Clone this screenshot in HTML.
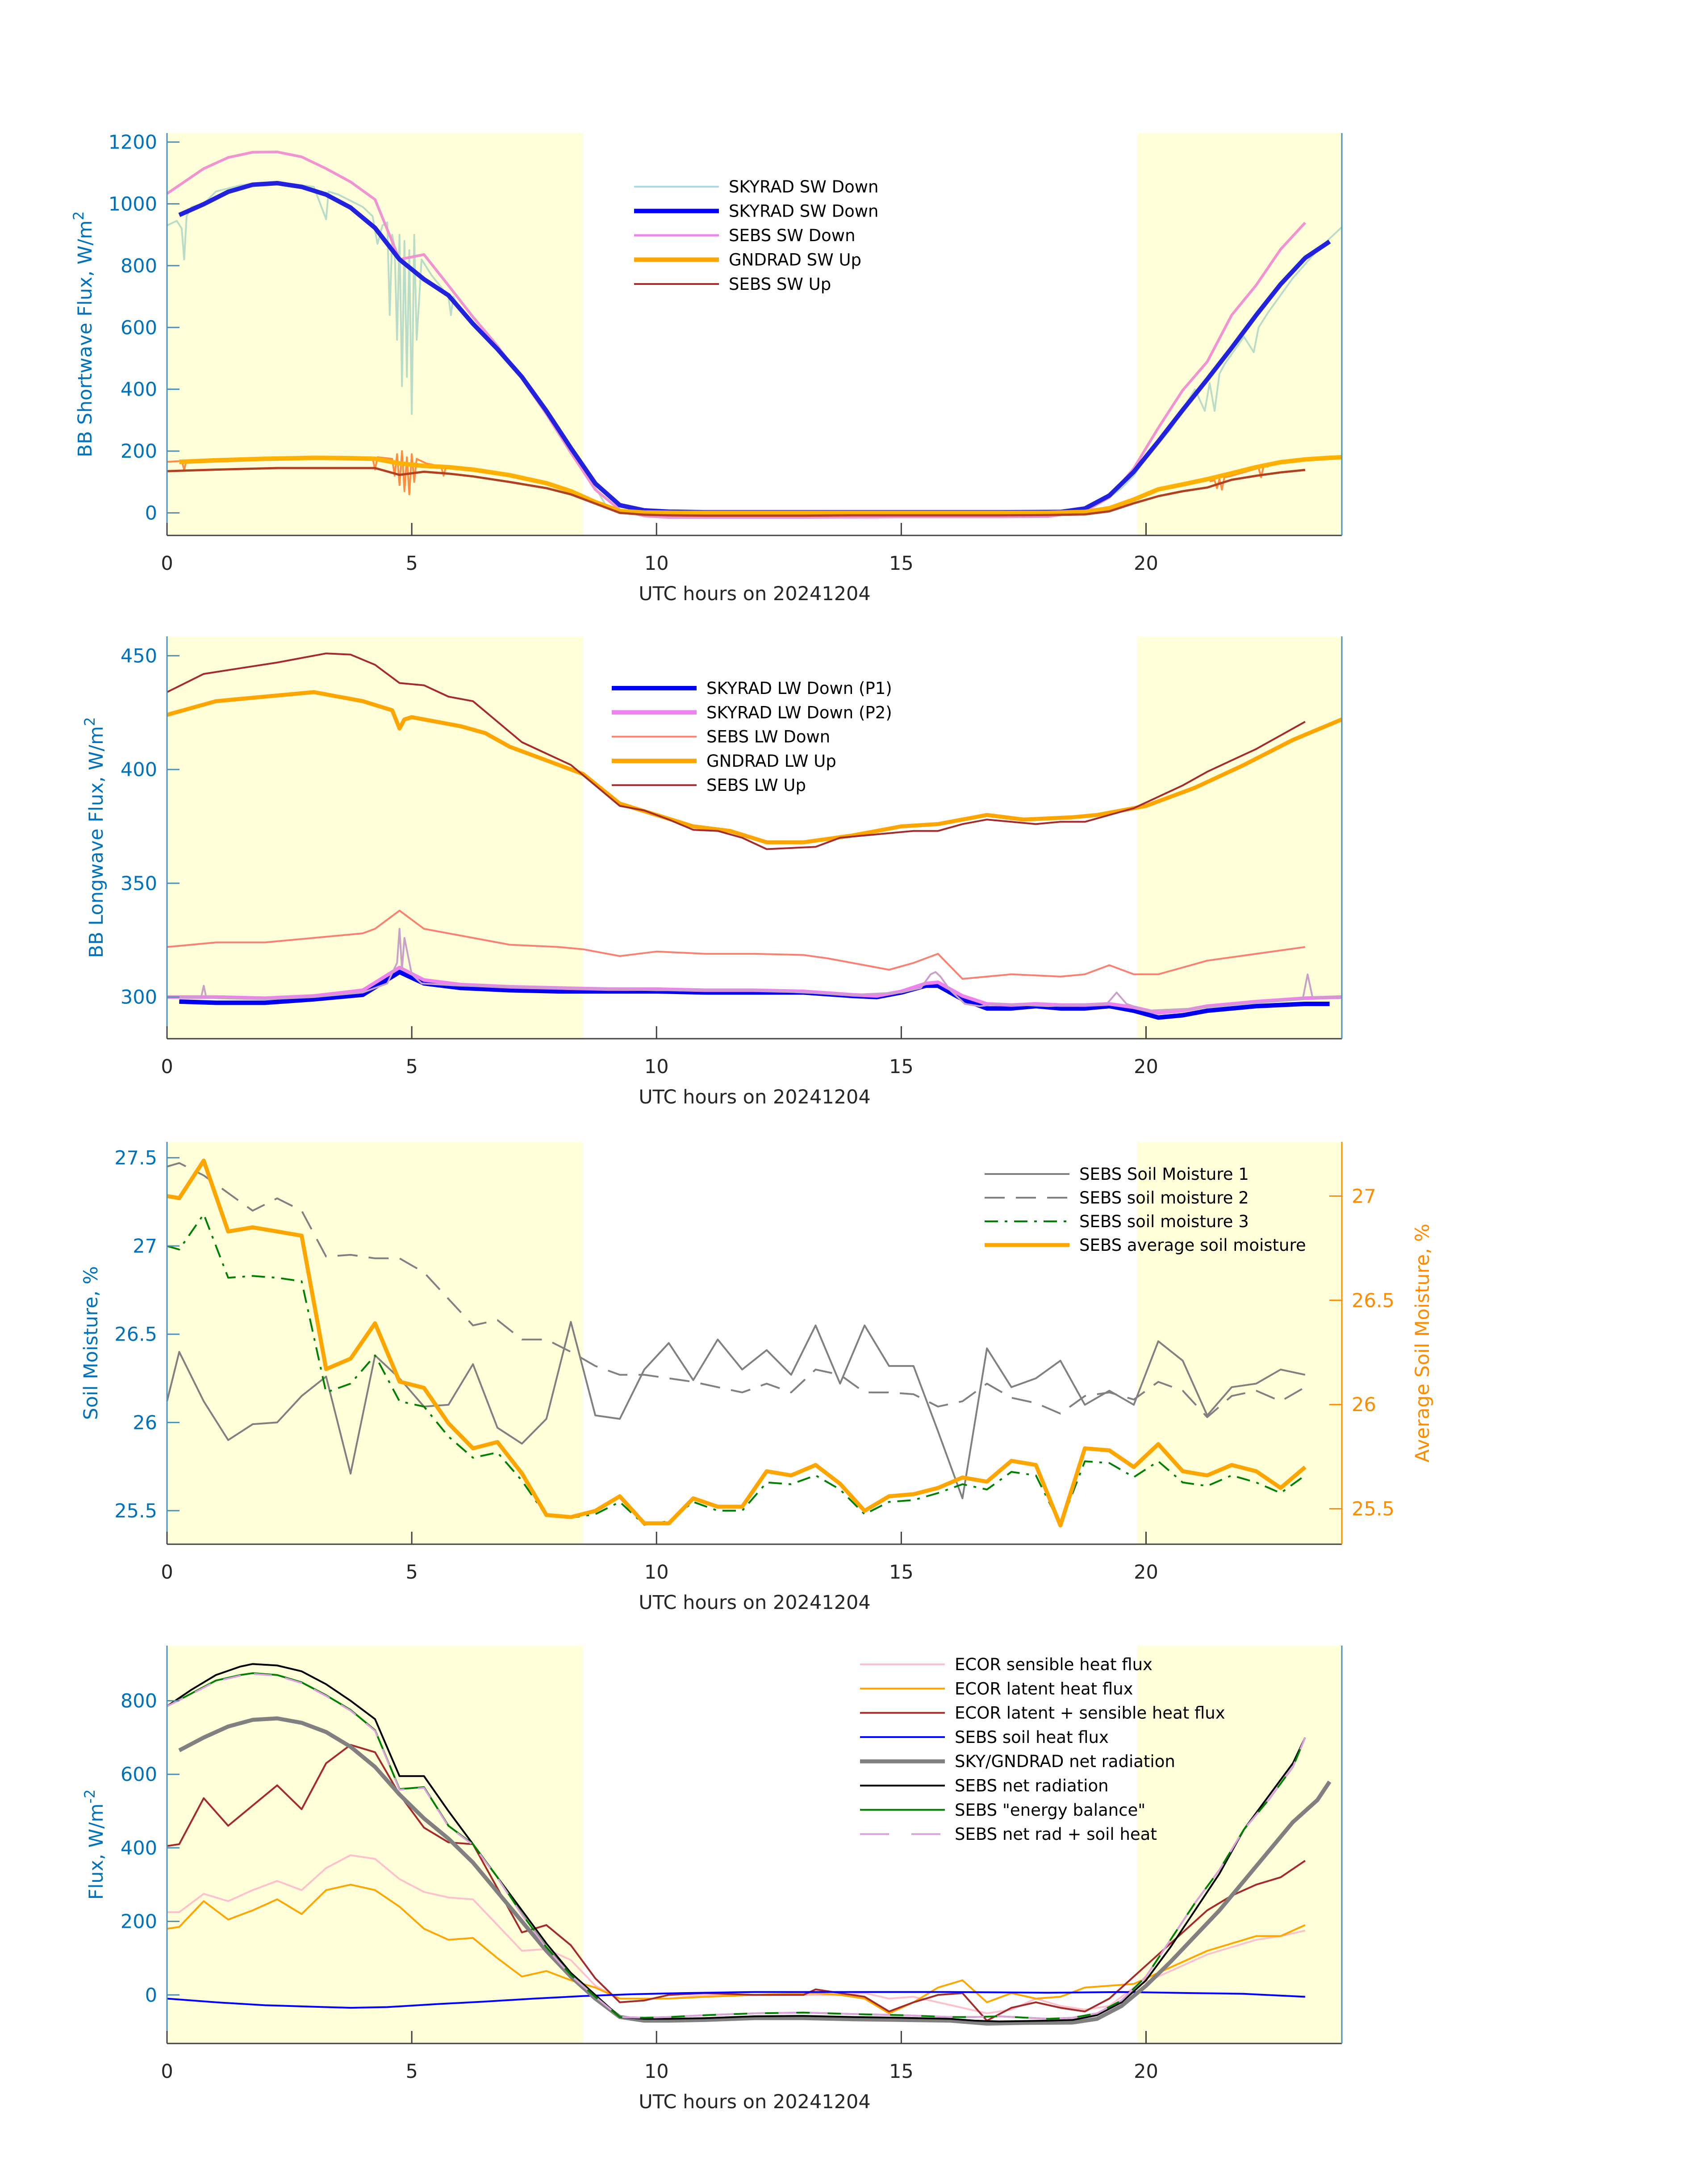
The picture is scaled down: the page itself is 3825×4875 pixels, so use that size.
<!DOCTYPE html>
<html><head><meta charset="utf-8">
<style>
html,body{margin:0;padding:0;background:#fff;}
svg{display:block;font-family:"DejaVu Sans","Liberation Sans",sans-serif;}
</style></head>
<body>
<svg id="chart" width="3825" height="4875" viewBox="0 0 3825 4875" xmlns="http://www.w3.org/2000/svg"></svg>
<script>
// ---------- Panel 1 data (shortwave) ----------
const swSkyT = [0.25,0.75,1.25,1.75,2.25,2.75,3.25,3.75,4.25,4.75,5.25,5.75,6.25,6.75,7.25,7.75,8.25,8.75,9.25,9.75,10.25,11,12,13,14,15,16,17,18.25,18.75,19.25,19.75,20.25,20.75,21.25,21.75,22.25,22.75,23.25,23.75];
const swSkyV = [964,999,1039,1062,1067,1055,1030,988,922,820,756,704,612,530,440,330,210,95,25,8,4,2,2,2,2,2,2,2,3,14,56,133,231,333,432,534,640,740,825,878];
const swSebsT = [0,0.75,1.25,1.75,2.25,2.75,3.25,3.75,4.25,4.75,5.25,5.75,6.25,6.75,7.25,7.75,8.25,8.75,9.25,9.75,10.25,11,12,13,14,15,16,17,18,18.75,19.25,19.75,20.25,20.75,21.25,21.75,22.25,22.75,23.25];
const swSebsV = [1033,1114,1150,1167,1168,1152,1114,1071,1014,820,836,736,634,540,435,320,195,75,10,-10,-15,-15,-15,-15,-14,-13,-13,-13,-12,5,50,144,275,397,489,640,737,853,939];
const swThinT = [0,0.2,0.3,0.35,0.4,0.5,0.75,1,1.25,1.5,1.75,2,2.5,3,3.25,3.3,3.5,4,4.2,4.3,4.4,4.5,4.55,4.6,4.65,4.7,4.75,4.8,4.85,4.9,4.95,5,5.05,5.1,5.2,5.4,5.6,5.75,5.8,5.85,6,6.5,7,7.5,8,8.5,9,9.5,10,12,14,16,18,18.75,19.25,19.5,19.75,20,20.5,21,21.2,21.3,21.4,21.5,21.6,22,22.2,22.3,22.5,23,23.5,24];
const swThinV = [930,945,920,820,960,990,1000,1040,1050,1060,1065,1068,1065,1055,950,1040,1030,990,960,870,930,940,640,900,860,560,900,410,880,440,850,320,900,560,820,770,730,700,640,700,655,570,485,380,265,150,15,5,3,2,2,2,2,15,50,80,120,180,270,400,330,420,330,450,480,570,520,600,650,760,850,925];
const gndThinT = [0,0.3,0.35,0.4,0.5,4.2,4.25,4.3,4.6,4.65,4.7,4.75,4.8,4.85,4.9,4.95,5,5.05,5.1,5.3,5.6,5.65,5.7,6];
const gndThinV = [165,168,140,170,168,178,140,180,175,120,190,90,200,70,180,60,190,100,175,160,150,120,150,140];
const gndThin2T = [21.3,21.4,21.45,21.5,21.55,21.6,21.7,22.3,22.35,22.4,22.5];
const gndThin2V = [102,105,80,110,75,115,118,145,115,150,150];
const gndSwT = [0.25,1,2,3,3.75,4.25,4.75,5.25,5.75,6.25,7,7.75,8.25,8.75,9.25,9.75,10.5,12,14,16,18,18.75,19.25,19.75,20.25,20.75,21.25,21.75,22.25,22.75,23.25,23.75,24];
const gndSwV = [165,170,175,178,177,175,160,152,148,140,122,96,70,35,6,1,0,0,0,0,0,3,15,43,76,92,109,128,148,164,173,178,180];
const sebsUpT = [0,1,2.25,3.25,4.25,4.75,5.25,5.75,6.25,7,7.75,8.25,8.75,9.25,9.75,10.25,11,12,13,14,15,16,17,18,18.75,19.25,19.75,20.25,20.75,21.25,21.75,22.25,22.75,23.25];
const sebsUpV = [135,140,145,145,145,123,133,127,118,100,80,60,30,0,-6,-8,-9,-9,-9,-8,-8,-8,-8,-7,-5,5,31,54,70,82,107,120,131,139];

// ---------- Panel 2 data (longwave) ----------
const lwP1T = [0.25,1,2,3,4,4.75,5.25,6,7,8,9,10,11,12,13,14,14.5,15,15.5,15.75,16.25,16.75,17.25,17.75,18.25,18.75,19.25,19.75,20.25,20.75,21.25,22.25,23.25,23.75];
const lwP1V = [298,297.5,297.5,299,301,311,306,304,303,302.5,302.5,302.5,302,302,302,300.5,300,302,305,305,299,295,295,296,295,295,296,294,291,292,294,296,297,297];
const lwP2T = [0,1,2,3,4,4.75,5.25,6,7,8,9,10,11,12,13,14,14.5,15,15.5,15.75,16.25,16.75,17.25,17.75,18.25,18.75,19.25,19.75,20.25,20.75,21.25,22.25,23.25,24];
const lwP2V = [300,300,299.5,300.5,303,313,307.5,305.5,304.5,304,303.5,303.5,303,303,302.5,301,300.5,302.5,306,306.5,300.5,297,296.5,297,296.5,296.5,297,295.5,293,294,296,298,299.5,300];
const lwThinT = [0,0.7,0.75,0.8,1,2,3,4,4.5,4.7,4.75,4.8,4.85,5,5.2,6,8,10,12,14,15,15.4,15.6,15.7,15.8,16,16.3,16.6,17,18,19.2,19.4,19.6,20,21,22,23.2,23.3,23.4,24];
const lwThinV = [300,300,305,300,299.5,299,300,302,306,315,330,312,326,310,306,305,304,303,303,301,302,304,310,311,309,303,297,296,297,296,297,302,297,294,295,297,299,310,300,300];
const sebsLwDownT = [0,1,2,3,4,4.25,4.75,5.25,6,7,8,8.5,9.25,10,11,12,13,13.5,14.25,14.75,15.25,15.75,16.25,16.75,17.25,17.75,18.25,18.75,19.25,19.75,20.25,20.75,21.25,22.25,23.25];
const sebsLwDownV = [322,324,324,326,328,330,338,330,327,323,322,321,318,320,319,319,318.5,317,314,312,315,319,308,309,310,309.5,309,310,314,310,310,313,316,319,322];
const gndLwT = [0,1,2,3,4,4.6,4.75,4.85,5,6,6.5,7,7.75,8.5,9.25,10,10.75,11.5,12.25,13,14,15,15.75,16.75,17.5,18.5,19,20,21,22,23,24];
const gndLwV = [424,430,432,434,430,426,418,422,423,419,416,410,404,398,385,380,375,373,368,368,371,375,376,380,378,379,380,384,392,402,413,422];
const sebsLwUpT = [0,0.75,1.5,2.25,3.25,3.75,4.25,4.75,5.25,5.75,6.25,6.75,7.25,7.75,8.25,8.75,9.25,9.75,10.25,10.75,11.25,11.75,12.25,13.25,13.75,14.25,15.25,15.75,16.25,16.75,17.25,17.75,18.25,18.75,19.25,19.75,20.25,20.75,21.25,21.75,22.25,22.75,23.25];
const sebsLwUpV = [434,442,444.5,447,451,450.5,446,438,437,432,430,421,412,407,402,393,384,382,378,373.5,373,370,365,366,370,371,373,373,376,378,377,376,377,377,380,383,388,393,399,404,409,415,421];

// ---------- Panel 3 data (soil moisture) ----------
const smT = [0,0.25,0.75,1.25,1.75,2.25,2.75,3.25,3.75,4.25,4.75,5.25,5.75,6.25,6.75,7.25,7.75,8.25,8.75,9.25,9.75,10.25,10.75,11.25,11.75,12.25,12.75,13.25,13.75,14.25,14.75,15.25,15.75,16.25,16.75,17.25,17.75,18.25,18.75,19.25,19.75,20.25,20.75,21.25,21.75,22.25,22.75,23.25];
const sm1 = [26.12,26.4,26.12,25.9,25.99,26.0,26.15,26.26,25.71,26.38,26.25,26.09,26.1,26.33,25.97,25.88,26.02,26.57,26.04,26.02,26.3,26.45,26.24,26.47,26.3,26.41,26.27,26.55,26.22,26.55,26.32,26.32,25.95,25.57,26.42,26.2,26.25,26.35,26.1,26.18,26.1,26.46,26.35,26.04,26.2,26.22,26.3,26.27];
const sm2 = [27.45,27.47,27.4,27.3,27.2,27.27,27.2,26.94,26.95,26.93,26.93,26.85,26.7,26.55,26.58,26.47,26.47,26.4,26.32,26.27,26.27,26.25,26.23,26.2,26.17,26.22,26.17,26.3,26.27,26.17,26.17,26.16,26.09,26.12,26.22,26.14,26.11,26.05,26.15,26.17,26.13,26.23,26.18,26.03,26.15,26.18,26.12,26.2];
const sm3 = [27.0,26.98,27.18,26.82,26.83,26.82,26.8,26.17,26.22,26.38,26.12,26.09,25.92,25.8,25.83,25.67,25.47,25.46,25.48,25.55,25.42,25.44,25.55,25.5,25.5,25.66,25.65,25.7,25.62,25.48,25.55,25.56,25.6,25.65,25.62,25.72,25.7,25.42,25.78,25.77,25.69,25.78,25.66,25.64,25.7,25.66,25.6,25.7];
const smAvg = [27.0,26.99,27.17,26.83,26.85,26.83,26.81,26.17,26.22,26.39,26.11,26.08,25.91,25.79,25.82,25.67,25.47,25.46,25.49,25.56,25.43,25.43,25.55,25.51,25.51,25.68,25.66,25.71,25.62,25.49,25.56,25.57,25.6,25.65,25.63,25.73,25.71,25.42,25.79,25.78,25.7,25.81,25.68,25.66,25.71,25.68,25.6,25.7];

// ---------- Panel 4 data (fluxes) ----------
const fxT = [0,0.25,0.75,1.25,1.75,2.25,2.75,3.25,3.75,4.25,4.75,5.25,5.75,6.25,6.75,7.25,7.75,8.25,8.75,9.25,9.75,10.25,11,12,13,13.25,13.75,14.25,14.75,15.25,15.75,16.25,16.75,17.25,17.75,18.25,18.75,19.25,19.75,20.25,20.75,21.25,21.75,22.25,22.75,23.25];
const ecorSens = [225,225,275,255,285,310,285,345,380,370,315,280,265,260,190,120,125,95,25,-10,-10,-10,0,0,0,0,0,5,-10,-5,-20,-35,-50,-40,-10,-30,-40,-30,20,50,80,110,130,150,160,175];
const ecorLat = [180,185,255,205,230,260,220,285,300,285,240,180,150,155,100,50,65,40,20,-10,-10,-10,-5,0,5,5,0,-10,-50,-20,20,40,-20,5,-10,-5,20,25,30,60,90,120,140,160,160,190];
const ecorSum = [405,410,535,460,515,570,505,630,680,660,545,455,415,410,290,170,190,135,45,-20,-15,0,5,0,0,15,5,-5,-45,-20,0,5,-70,-35,-20,-35,-45,-10,50,110,170,230,270,300,320,365];
const soilHeatT = [0,1,2,3,3.75,4.5,5.5,6.5,7.5,8.5,9.5,10.5,12,14,16,18,19.5,20.5,22,23.25];
const soilHeatV = [-10,-20,-28,-32,-35,-33,-25,-18,-10,-3,2,5,8,8,8,6,8,6,3,-5];
const skyNetT = [0.25,0.75,1.25,1.75,2.25,2.75,3.25,3.75,4.25,4.75,5.25,5.75,6.25,6.75,7.25,7.75,8.25,8.75,9.25,9.75,10.25,11,12,13,14,15,16,16.75,17.5,18.5,19,19.5,20,20.5,21,21.5,22,22.5,23,23.5,23.75];
const skyNetV = [665,700,730,748,752,740,715,675,620,545,480,425,360,280,200,120,50,-10,-60,-70,-70,-68,-63,-63,-66,-68,-70,-78,-76,-75,-65,-30,25,90,160,230,310,390,470,530,580];
const sebsNetT = [0,0.5,1,1.5,1.75,2.25,2.75,3.25,3.75,4.25,4.75,5.25,5.75,6.25,6.75,7.25,7.75,8.25,8.75,9.25,9.75,10.25,11,12,13,14,15,16,16.5,17,18,18.5,19,19.5,20,20.5,21,21.5,22,22.5,23,23.25];
const sebsNetV = [785,830,870,893,900,896,880,845,800,750,595,595,500,410,320,230,140,60,0,-60,-65,-65,-63,-58,-57,-60,-62,-65,-70,-72,-70,-68,-55,-20,40,130,230,330,450,540,630,700];
const ebalV = [785,820,855,870,875,870,850,815,775,720,560,565,460,410,320,220,130,55,-5,-60,-62,-60,-55,-50,-48,-52,-55,-60,-60,-58,-65,-62,-50,-15,50,150,250,340,450,530,620,700];
const netSoilV = [785,818,853,868,873,868,848,813,773,718,558,563,458,408,318,218,128,53,-5,-60,-62,-60,-55,-50,-48,-52,-55,-60,-60,-58,-65,-62,-50,-15,50,150,250,340,450,530,620,700];

// ---------- axis tick labels ----------
const xTicks = [0,5,10,15,20];
const p1Ticks = [0,200,400,600,800,1000,1200];
const p2Ticks = [300,350,400,450];
const p3Ticks = [25.5,26,26.5,27,27.5];
const p3RTicks = [25.5,26,26.5,27];
const p4Ticks = [0,200,400,600,800];

const NS = 'http://www.w3.org/2000/svg';
const svg = document.getElementById('chart');
const XL = 374, XR = 3005;
function sx(h){ return XL + (XR - XL) * h / 24; }
function mk(tag, attrs, parent){
  const e = document.createElementNS(NS, tag);
  for (const k in attrs) e.setAttribute(k, attrs[k]);
  (parent || svg).appendChild(e);
  return e;
}
function makeY(top, bot, lo, hi){ return v => bot - (v - lo) / (hi - lo) * (bot - top); }
function series(g, ts, vs, ys, color, w, name, dash){
  let d = '';
  for (let i = 0; i < ts.length; i++) d += (i ? 'L' : 'M') + sx(ts[i]).toFixed(1) + ' ' + ys(vs[i]).toFixed(1);
  const p = mk('path', {d: d, fill: 'none', stroke: color, 'stroke-width': w, 'stroke-linejoin': 'round'}, g);
  if (dash) p.setAttribute('stroke-dasharray', dash);
  
  
  return p;
}
function panel(cfg){
  const g = mk('g', {});
  
  
  const ys = makeY(cfg.top, cfg.bot, cfg.lo, cfg.hi);
  const s1 = mk('rect', {x: sx(0), y: cfg.top, width: sx(8.5) - sx(0), height: cfg.bot - cfg.top, fill: '#ffffd9'}, g);
  
  
  const s2 = mk('rect', {x: sx(19.82), y: cfg.top, width: sx(24) - sx(19.82), height: cfg.bot - cfg.top, fill: '#ffffd9'}, g);
  
  
  cfg.draw(g, ys);
  mk('line', {x1: XL, y1: cfg.bot, x2: XR, y2: cfg.bot, stroke: '#404040', 'stroke-width': 3}, g);
  mk('line', {x1: XL, y1: cfg.top, x2: XL, y2: cfg.bot, stroke: cfg.lcol, 'stroke-width': 3}, g);
  mk('line', {x1: XR, y1: cfg.top, x2: XR, y2: cfg.bot, stroke: cfg.rcol, 'stroke-width': 3}, g);
  xTicks.forEach(t => {
    mk('line', {x1: sx(t), y1: cfg.bot, x2: sx(t), y2: cfg.bot - 28, stroke: '#404040', 'stroke-width': 3}, g);
    const tx = mk('text', {x: sx(t), y: cfg.bot + 77, 'font-size': 43, fill: '#262626', 'text-anchor': 'middle'}, g);
    tx.textContent = t;
    
    
  });
  cfg.ticks.forEach(t => {
    const y = ys(t);
    mk('line', {x1: XL, y1: y, x2: XL + 28, y2: y, stroke: cfg.lcol, 'stroke-width': 3}, g);
    const tx = mk('text', {x: XL - 22, y: y + 15, 'font-size': 43, fill: cfg.tcol, 'text-anchor': 'end'}, g);
    tx.textContent = t;
    
    
  });
  const xl = mk('text', {x: 1690, y: cfg.bot + 145, 'font-size': 43, fill: '#262626', 'text-anchor': 'middle'}, g);
  xl.textContent = 'UTC hours on 20241204';
  
  
  const cy = (cfg.top + cfg.bot) / 2;
  const yl = mk('text', {x: 0, y: 0, 'font-size': 43, fill: cfg.tcol, 'text-anchor': 'middle', transform: 'translate(' + (cfg.ylx || 208) + ',' + cy + ') rotate(-90)'}, g);
  yl.innerHTML = cfg.ylabel;
  
  
  const lg = mk('g', {}, g);
  
  
  cfg.legend.forEach((e, i) => {
    const y = cfg.ly + i * cfg.lsp;
    const ln = mk('line', {x1: cfg.lx, y1: y, x2: cfg.lx + 190, y2: y, stroke: e[1], 'stroke-width': e[2]}, lg);
    if (e[3]) ln.setAttribute('stroke-dasharray', e[3]);
    const tx = mk('text', {x: cfg.lx + 212, y: y + 13, 'font-size': 37, fill: '#000'}, lg);
    tx.textContent = e[0];
    
    
  });
  return ys;
}

const BLUE = '#0072bd';
panel({name: 'shortwave-panel', top: 298, bot: 1199, lo: -73, hi: 1229, ticks: p1Ticks, lcol: '#4a90b8', rcol: '#4a90b8', tcol: BLUE,
  ylabel: 'BB Shortwave Flux, W/m<tspan dy="-18" font-size="32">2</tspan>', ylx: 205,
  lx: 1420, ly: 418, lsp: 54.5,
  legend: [['SKYRAD SW Down', '#add8e6', 4], ['SKYRAD SW Down', '#0000ff', 10], ['SEBS SW Down', '#ee82ee', 5], ['GNDRAD SW Up', '#ffa500', 10], ['SEBS SW Up', '#a52a2a', 4]],
  draw: (g, ys) => {
    series(g, swThinT, swThinV, ys, '#b8dcc8', 4, 'skyrad-sw-down-1min');
    series(g, gndThinT, gndThinV, ys, '#ff8c40', 4, 'gndrad-sw-up-1min');
    series(g, gndThin2T, gndThin2V, ys, '#ff8c40', 4, 'gndrad-sw-up-1min-evening');
    series(g, swSebsT, swSebsV, ys, '#f093d0', 6, 'sebs-sw-down');
    series(g, swSkyT, swSkyV, ys, '#2222dd', 10, 'skyrad-sw-down');
    series(g, gndSwT, gndSwV, ys, '#ffb000', 10, 'gndrad-sw-up');
    series(g, sebsUpT, sebsUpV, ys, '#b04020', 5, 'sebs-sw-up');
  }});

panel({name: 'longwave-panel', top: 1425, bot: 2326, lo: 281.7, hi: 458.5, ticks: p2Ticks, lcol: '#4a90b8', rcol: '#4a90b8', tcol: BLUE,
  ylabel: 'BB Longwave Flux, W/m<tspan dy="-18" font-size="32">2</tspan>', ylx: 230,
  lx: 1370, ly: 1541, lsp: 54.3,
  legend: [['SKYRAD LW Down (P1)', '#0000ff', 10], ['SKYRAD LW Down (P2)', '#ee82ee', 10], ['SEBS LW Down', '#fa8072', 4], ['GNDRAD LW Up', '#ffa500', 10], ['SEBS LW Up', '#a52a2a', 4]],
  draw: (g, ys) => {
    series(g, sebsLwDownT, sebsLwDownV, ys, '#fa8072', 4, 'sebs-lw-down');
    series(g, lwP1T, lwP1V, ys, '#0000ee', 10, 'skyrad-lw-down-p1');
    series(g, lwP2T, lwP2V, ys, '#ee82ee', 8, 'skyrad-lw-down-p2');
    series(g, lwThinT, lwThinV, ys, '#c8a0c8', 4, 'skyrad-lw-down-1min');
    series(g, gndLwT, gndLwV, ys, '#ffa500', 9, 'gndrad-lw-up');
    series(g, sebsLwUpT, sebsLwUpV, ys, '#a52a2a', 4, 'sebs-lw-up');
  }});

panel({name: 'soil-moisture-panel', top: 2557, bot: 3458, lo: 25.31, hi: 27.59, ticks: p3Ticks, lcol: '#4a90b8', rcol: '#ff8c00', tcol: BLUE,
  ylabel: 'Soil Moisture, %', ylx: 218,
  lx: 2205, ly: 2629, lsp: 53,
  legend: [['SEBS Soil Moisture 1', '#808080', 4], ['SEBS soil moisture 2', '#808080', 4, '45 25'], ['SEBS soil moisture 3', '#008000', 4, '30 15 6 15'], ['SEBS average soil moisture', '#ffa500', 9]],
  draw: (g, ys) => {
    series(g, smT, sm1, ys, '#808080', 4, 'soil-moisture-1');
    series(g, smT, sm2, ys, '#808080', 4, 'soil-moisture-2', '45 25');
    series(g, smT, sm3, ys, '#008000', 4, 'soil-moisture-3', '30 15 6 15');
    const yr = makeY(2557, 3458, 25.33, 27.26);
    series(g, smT, smAvg, yr, '#ffa500', 9, 'soil-moisture-average');
  }});
(function(){
  const yr = makeY(2557, 3458, 25.33, 27.26);
  p3RTicks.forEach(t => {
    const y = yr(t);
    mk('line', {x1: XR, y1: y, x2: XR - 28, y2: y, stroke: '#ff8c00', 'stroke-width': 3});
    const tx = mk('text', {x: XR + 22, y: y + 15, 'font-size': 43, fill: '#ff8c00'});
    tx.textContent = t;
    
    
  });
  const yl = mk('text', {x: 0, y: 0, 'font-size': 43, fill: '#ff8c00', 'text-anchor': 'middle', transform: 'translate(3200,' + ((2557 + 3458) / 2) + ') rotate(-90)'});
  yl.textContent = 'Average Soil Moisture, %';
  
  
})();

panel({name: 'flux-panel', top: 3685, bot: 4576, lo: -132, hi: 950, ticks: p4Ticks, lcol: '#4a90b8', rcol: '#4a90b8', tcol: BLUE,
  ylabel: 'Flux, W/m<tspan dy="-18" font-size="32">-2</tspan>', ylx: 230,
  lx: 1926, ly: 3727, lsp: 54.3,
  legend: [['ECOR sensible heat flux', '#ffc0cb', 4], ['ECOR latent heat flux', '#ffa500', 4], ['ECOR latent + sensible heat flux', '#a52a2a', 4], ['SEBS soil heat flux', '#0000ff', 4], ['SKY/GNDRAD net radiation', '#808080', 9], ['SEBS net radiation', '#000000', 4], ['SEBS "energy balance"', '#008000', 4], ['SEBS net rad + soil heat', '#dda0dd', 4, '65 50']],
  draw: (g, ys) => {
    series(g, fxT, ecorSens, ys, '#ffc0cb', 4, 'ecor-sensible-heat-flux');
    series(g, fxT, ecorLat, ys, '#ffa500', 4, 'ecor-latent-heat-flux');
    series(g, fxT, ecorSum, ys, '#a52a2a', 4, 'ecor-latent-plus-sensible');
    series(g, soilHeatT, soilHeatV, ys, '#0000ff', 4, 'sebs-soil-heat-flux');
    series(g, skyNetT, skyNetV, ys, '#808080', 9, 'sky-gndrad-net-radiation');
    series(g, sebsNetT, sebsNetV, ys, '#000000', 4, 'sebs-net-radiation');
    series(g, sebsNetT, ebalV, ys, '#008000', 4, 'sebs-energy-balance');
    series(g, sebsNetT, netSoilV, ys, '#dda0dd', 4, 'sebs-net-rad-plus-soil-heat', '40 30');
  }});
</script>
</body></html>
